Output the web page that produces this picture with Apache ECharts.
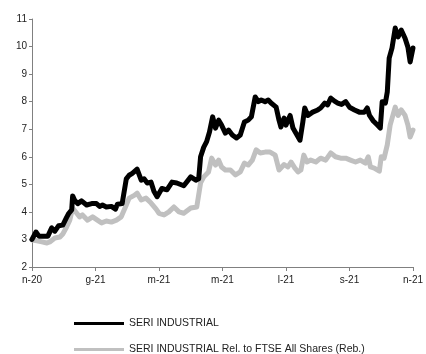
<!DOCTYPE html>
<html>
<head>
<meta charset="utf-8">
<script src="https://cdn.jsdelivr.net/npm/echarts@6/dist/echarts.min.js"></script>
<style>
  html, body { margin: 0; padding: 0; background: #fff; }
  #chart { width: 426px; height: 354px; }
</style>
</head>
<body>
<div id="chart"></div>
<script>
// x in months from Nov 2020
const monthLabels = ["n-20", "g-21", "m-21", "m-21", "l-21", "s-21", "n-21"];

const blackMonths = [0, 0.125, 0.22, 0.34, 0.5, 0.62, 0.72, 0.84, 0.97, 1.09, 1.16, 1.25, 1.28, 1.34, 1.44, 1.56, 1.72, 1.88, 2.03, 2.13, 2.22, 2.34, 2.5, 2.63, 2.69, 2.84, 2.97, 3.06, 3.16, 3.31, 3.44, 3.53, 3.63, 3.75, 3.84, 3.94, 4.09, 4.25, 4.41, 4.56, 4.78, 5.0, 5.16, 5.25, 5.31, 5.41, 5.5, 5.59, 5.69, 5.78, 5.88, 5.97, 6.09, 6.19, 6.31, 6.44, 6.56, 6.69, 6.81, 6.91, 7.03, 7.13, 7.22, 7.34, 7.44, 7.53, 7.69, 7.78, 7.84, 7.94, 8.0, 8.13, 8.22, 8.31, 8.44, 8.53, 8.59, 8.69, 8.84, 9.0, 9.09, 9.22, 9.31, 9.41, 9.53, 9.63, 9.75, 9.88, 10.0, 10.16, 10.31, 10.47, 10.56, 10.63, 10.75, 10.88, 10.97, 11.03, 11.13, 11.19, 11.25, 11.34, 11.44, 11.53, 11.63, 11.75, 11.84, 11.91, 12.0];
const blackValues = [3.0, 3.27, 3.12, 3.12, 3.12, 3.42, 3.3, 3.5, 3.52, 3.8, 3.95, 4.07, 4.58, 4.43, 4.3, 4.4, 4.25, 4.3, 4.3, 4.2, 4.25, 4.18, 4.2, 4.1, 4.28, 4.3, 5.2, 5.33, 5.4, 5.55, 5.15, 5.2, 5.05, 5.08, 4.75, 4.55, 4.85, 4.8, 5.08, 5.05, 4.95, 5.27, 5.15, 5.2, 6.0, 6.35, 6.55, 6.9, 7.45, 7.04, 7.33, 7.15, 6.86, 6.97, 6.79, 6.68, 6.79, 7.26, 7.33, 7.45, 8.17, 8.0, 8.06, 8.0, 8.06, 7.95, 7.8, 7.33, 7.08, 7.4, 7.15, 7.5, 7.04, 6.86, 6.6, 7.26, 7.77, 7.5, 7.62, 7.7, 7.77, 7.95, 7.88, 8.13, 8.02, 7.95, 7.9, 8.0, 7.8, 7.7, 7.62, 7.62, 7.77, 7.5, 7.3, 7.15, 7.04, 8.0, 7.95, 8.35, 9.58, 9.95, 10.67, 10.35, 10.6, 10.3, 9.98, 9.44, 9.95];

const grayMonths = [0, 0.16, 0.31, 0.47, 0.56, 0.72, 0.88, 0.97, 1.09, 1.19, 1.28, 1.41, 1.5, 1.59, 1.75, 1.91, 2.06, 2.19, 2.34, 2.5, 2.66, 2.81, 2.97, 3.06, 3.22, 3.31, 3.44, 3.59, 3.75, 3.91, 4.0, 4.16, 4.31, 4.47, 4.63, 4.78, 5.0, 5.19, 5.31, 5.41, 5.56, 5.66, 5.78, 5.88, 5.97, 6.09, 6.25, 6.41, 6.56, 6.69, 6.81, 6.94, 7.06, 7.19, 7.34, 7.5, 7.66, 7.78, 7.94, 8.06, 8.16, 8.28, 8.38, 8.47, 8.56, 8.66, 8.78, 8.94, 9.09, 9.25, 9.41, 9.56, 9.72, 9.88, 10.03, 10.19, 10.34, 10.5, 10.59, 10.66, 10.78, 10.94, 11.0, 11.09, 11.19, 11.28, 11.44, 11.53, 11.63, 11.75, 11.84, 11.91, 12.0];
const grayValues = [2.98, 2.95, 2.91, 2.87, 2.91, 3.05, 3.09, 3.2, 3.45, 3.7, 4.14, 3.95, 3.82, 3.89, 3.7, 3.82, 3.7, 3.6, 3.67, 3.63, 3.7, 3.82, 4.25, 4.5, 4.6, 4.68, 4.43, 4.5, 4.32, 4.1, 3.95, 3.89, 4.0, 4.18, 4.0, 3.95, 4.14, 4.18, 5.05, 5.27, 5.45, 5.95, 5.7, 5.88, 5.63, 5.52, 5.52, 5.34, 5.45, 5.77, 5.7, 5.88, 6.25, 6.14, 6.17, 6.17, 6.06, 5.52, 5.72, 5.63, 5.81, 5.59, 5.45, 5.52, 6.06, 5.81, 5.88, 5.81, 5.95, 5.88, 6.14, 6.0, 5.95, 5.95, 5.88, 5.81, 5.88, 5.77, 6.0, 5.63, 5.59, 5.48, 6.0, 5.95, 6.43, 7.15, 7.8, 7.5, 7.7, 7.5, 7.15, 6.72, 6.97];

const seriesNames = ["SERI INDUSTRIAL", "SERI INDUSTRIAL Rel. to FTSE All Shares (Reb.)"];

const FONT = "Liberation Sans";
const axisColor = "#808080";

function pairs(xs, ys) {
  return xs.map(function (x, i) {
    return [x, ys[i]];
  });
}

const chart = echarts.init(document.getElementById("chart"), null, { renderer: "canvas" });

chart.setOption({
  animation: false,
  backgroundColor: "#fff",
  textStyle: { fontFamily: FONT },
  grid: { left: 32, right: 10, top: 19, bottom: 87, containLabel: false },
  xAxis: {
    type: "value",
    min: 0,
    max: 12,
    interval: 2,
    axisLine: { lineStyle: { color: axisColor, width: 1 } },
    axisTick: { show: true, inside: false, length: 4, lineStyle: { color: axisColor } },
    splitLine: { show: false },
    axisLabel: {
      margin: 8,
      fontSize: 10,
      fontFamily: FONT,
      color: "#222",
      showMaxLabel: true,
      formatter: function (v) {
        return monthLabels[Math.round(v / 2)];
      },
    },
  },
  yAxis: {
    type: "value",
    min: 2,
    max: 11,
    interval: 1,
    axisLine: { show: true, lineStyle: { color: axisColor, width: 1 } },
    axisTick: { show: true, inside: false, length: 3, lineStyle: { color: axisColor } },
    splitLine: { show: false },
    axisLabel: { margin: 5, fontSize: 10, fontFamily: FONT, color: "#222" },
  },
  legend: [
    {
      data: [seriesNames[0]],
      left: 69,
      top: 313,
      icon: "rect",
      itemWidth: 50,
      itemHeight: 3,
      itemGap: 0,
      textStyle: { fontSize: 10.5, fontFamily: FONT, color: "#222" },
    },
    {
      data: [seriesNames[1]],
      left: 69,
      top: 339,
      icon: "rect",
      itemWidth: 50,
      itemHeight: 3,
      itemGap: 0,
      textStyle: { fontSize: 10.5, fontFamily: FONT, color: "#222" },
    },
  ],
  series: [
    {
      name: seriesNames[1],
      type: "line",
      data: pairs(grayMonths, grayValues),
      showSymbol: false,
      symbol: "none",
      z: 2,
      color: "#c0c0c0",
      lineStyle: { color: "#c0c0c0", width: 5, join: "round", cap: "round" },
    },
    {
      name: seriesNames[0],
      type: "line",
      data: pairs(blackMonths, blackValues),
      showSymbol: false,
      symbol: "none",
      z: 3,
      color: "#000",
      lineStyle: { color: "#000", width: 5, join: "round", cap: "round" },
    },
  ],
});
</script>
</body>
</html>
